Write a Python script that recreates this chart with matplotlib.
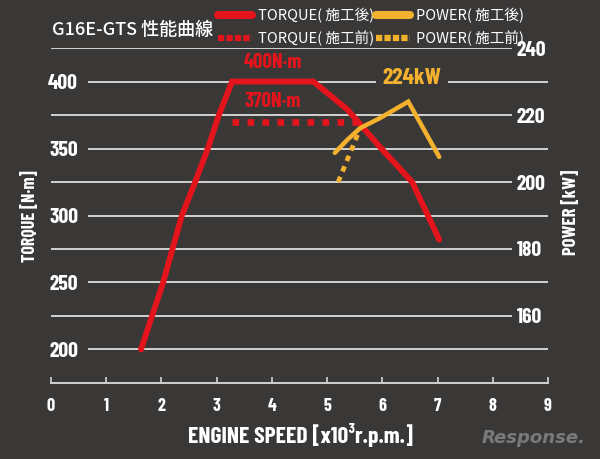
import matplotlib.pyplot as plt
from matplotlib.lines import Line2D

# engine data (rpm in x1000)
rpm_torque = [1.63, 2.03, 2.37, 2.61, 2.84, 3.04, 3.28, 4.75, 5.37, 5.58, 5.96, 6.54, 7.03]
torque = [200, 250, 300, 325, 350, 375, 400, 400, 379, 369, 351, 325, 282]
rpm_torque_before = [3.28, 5.55]
torque_before = [370, 370]

rpm_power = [5.14, 5.36, 5.6, 5.96, 6.47, 7.03]
power = [208.7, 212.5, 216.1, 219.1, 224, 207.5]
rpm_power_before = [5.2, 5.45, 5.6]
power_before = [200, 210, 216.1]

torque_ticks = [200, 250, 300, 350, 400]
torque_mid = [225, 275, 325, 375, 425]
power_ticks = [160, 180, 200, 220, 240]
rpm_ticks = list(range(10))

BG = '#3a3837'
RED = '#e3141c'
ORANGE = '#f4b12e'
GRID = '#d2d2d2'
NARROW = ['Barlow Condensed', 'Oswald', 'Roboto Condensed', 'DejaVu Sans']
CJK = ['Noto Sans CJK JP', 'DejaVu Sans']
nfont = dict(family=NARROW, fontweight='bold', fontstretch='condensed')

fig = plt.figure(figsize=(6, 4.59), dpi=100, facecolor=BG)
ax = fig.add_axes([0.085, 0.1656, 0.8283, 0.7298])
ax.set_facecolor(BG)
ax.set_xlim(0, 9)
ax.set_ylim(175, 425)
for s in ['left', 'right', 'top']:
    ax.spines[s].set_visible(False)
ax.spines['bottom'].set_color(GRID)
ax.spines['bottom'].set_linewidth(1.4)

ax2 = ax.twinx()
ax2.set_ylim(140, 240)
for s in ax2.spines.values():
    s.set_visible(False)

# grid lines
ax.hlines(torque_ticks, 0.67, 9, color=GRID, lw=1.4, zorder=1)
ax.hlines(torque_mid, 0, 8.35, color=GRID, lw=1.4, zorder=1)

# ticks
ax.set_xticks(rpm_ticks)
ax.set_xticklabels([str(t) for t in rpm_ticks], fontsize=13, color='white', **nfont)
ax.tick_params(axis='x', direction='in', length=4, width=1.2, color=GRID, pad=11)
ax.set_yticks(torque_ticks)
ax.set_yticklabels([str(t) for t in torque_ticks], fontsize=15.5, color='white', **nfont)
ax.tick_params(axis='y', length=0, pad=-19.5)
ax2.set_yticks(power_ticks)
ax2.set_yticklabels([str(t) for t in power_ticks], fontsize=15.5, color='white', **nfont)
ax2.tick_params(axis='y', length=0, pad=-22.5)

# curves
ax.plot(rpm_torque, torque, color=RED, lw=4.2, solid_capstyle='round',
        solid_joinstyle='miter', zorder=4)
ax.plot(rpm_torque_before, torque_before, color=RED, lw=4.8,
        dashes=(1, 1.25), dash_capstyle='butt', zorder=3)
ax2.plot(rpm_power, power, color=ORANGE, lw=3.2, solid_capstyle='round',
         solid_joinstyle='miter', zorder=5)
ax2.plot(rpm_power_before, power_before, color=ORANGE, lw=3.4,
         dashes=(1.2, 1.2), dash_capstyle='butt', zorder=5)

# annotations
ax.text(4.02, 414.5, '400N·m', color=RED, fontsize=15, ha='center', va='center',
        zorder=6, **nfont)
ax.text(4.02, 385, '370N·m', color=RED, fontsize=15, ha='center', va='center',
        zorder=6, **nfont)
ax2.text(6.54, 231, '224kW', color=ORANGE, fontsize=17, ha='center', va='center',
         zorder=6, bbox=dict(facecolor=BG, edgecolor='none', pad=5), **nfont)

# axis titles
fig.text(0.5, 0.052, 'ENGINE SPEED [x10³r.p.m.]', color='white', fontsize=17,
         ha='center', va='center', **nfont)
fig.text(0.05, 0.529, 'TORQUE [N·m]', color='white', fontsize=13, rotation=90,
         ha='center', va='center', **nfont)
fig.text(0.952, 0.538, 'POWER [kW]', color='white', fontsize=13.5, rotation=90,
         ha='center', va='center', **nfont)

# title
fig.text(0.087, 0.935, 'G16E-GTS 性能曲線', color='white', family=CJK,
         fontweight='medium', fontsize=13, ha='left', va='center')

# legend, one block per column
leg_style = dict(loc='upper left', frameon=False, labelcolor='white',
                 prop={'family': CJK, 'size': 10.5},
                 borderpad=0, borderaxespad=0,
                 handlelength=2.3, handletextpad=0.45, labelspacing=0.5)
torque_handles = [Line2D([], [], color=RED, lw=5.8, solid_capstyle='round'),
                  Line2D([], [], color=RED, lw=4.5, dashes=(1.0, 0.35))]
power_handles = [Line2D([], [], color=ORANGE, lw=5.8, solid_capstyle='round'),
                 Line2D([], [], color=ORANGE, lw=4.5, dashes=(1.0, 0.35))]
fig.legend(torque_handles, ['TORQUE( 施工後)', 'TORQUE( 施工前)'],
           bbox_to_anchor=(218 / 600, 1 - 8 / 459), **leg_style)
fig.legend(power_handles, ['POWER( 施工後)', 'POWER( 施工前)'],
           bbox_to_anchor=(376 / 600, 1 - 8 / 459), **leg_style)

# watermark
fig.text(0.89, 0.046, 'Response.', color='#7a7a7a', fontsize=13, style='italic',
         fontweight='bold', ha='center', va='center')

fig.savefig('out.png', dpi=100, facecolor=BG)
